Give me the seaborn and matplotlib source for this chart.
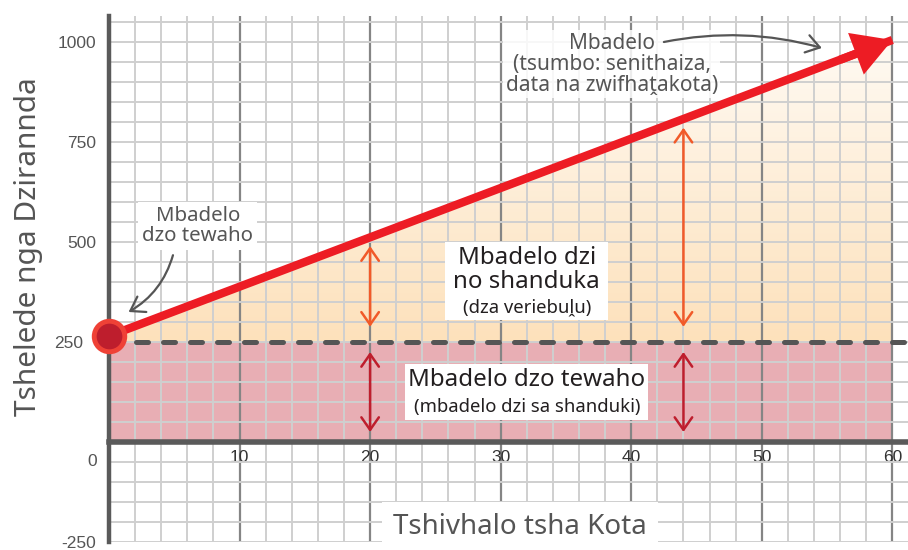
import numpy as np
import matplotlib.pyplot as plt
import matplotlib.transforms as mtransforms
from matplotlib.colors import LinearSegmentedColormap
from matplotlib.patches import Rectangle
import seaborn as sns

# data
quantity = [0, 60]
total_cost = [265, 1005]
fixed_cost = 250
arrow_x = [20, 44]
x_ticks = [10, 20, 30, 40, 50, 60]
y_ticks = [-250, 0, 250, 500, 750, 1000]
y_tick_labels = ['-250', '0', '250', '500', '750', '1000']

sns.set_theme(style="white")
plt.rcParams['font.family'] = ['Noto Sans', 'Open Sans', 'DejaVu Sans']

fig = plt.figure(figsize=(9.08, 5.5), dpi=100)
ax = fig.add_axes([109 / 908, 8 / 550, 1 - 109 / 908, 526 / 550])

# fixed cost block
ax.fill_between([quantity[0], quantity[-1]], 0, fixed_cost,
                color='#e8aeb4', lw=0, zorder=1)

# variable cost area with a vertical fade
poly = ax.fill_between(quantity, fixed_cost, total_cost, facecolor='none', lw=0)
fade = LinearSegmentedColormap.from_list('fade', ['#fde1bb', '#fffaf3'])
grad = np.linspace(0, 1, 256).reshape(-1, 1)
img = ax.imshow(grad, extent=[quantity[0], quantity[-1], fixed_cost, total_cost[-1]],
                origin='lower', aspect='auto', cmap=fade, zorder=1)
img.set_clip_path(poly.get_paths()[0], ax.transData)

ax.set_xlim(0, 61.2)
ax.set_ylim(-250, 1065)

# grid
ax.set_axisbelow('line')
ax.set_xticks(x_ticks)
ax.set_xticks([v for v in range(2, 62, 2) if v % 10], minor=True)
ax.set_yticks(y_ticks)
ax.set_yticklabels(y_tick_labels)
ax.set_yticks([v for v in range(-250, 1065, 50) if v not in y_ticks], minor=True)
ax.grid(which='minor', color='#cfcfcf', lw=1.4)
ax.grid(which='major', axis='y', color='#cfcfcf', lw=1.4)
ax.grid(which='major', axis='x', color='#858585', lw=1.6)

# spines
for s in ['top', 'right']:
    ax.spines[s].set_visible(False)
ax.spines['left'].set_color('#5a5a5a')
ax.spines['left'].set_linewidth(3.2)
ax.spines['bottom'].set_position(('data', 0))
ax.spines['bottom'].set_color('#5a5a5a')
ax.spines['bottom'].set_linewidth(4)

ax.tick_params(axis='both', which='both', length=0)
ax.tick_params(axis='y', pad=9, labelsize=12.5, labelcolor='#555555')
ax.tick_params(axis='x', pad=6, labelsize=12.5, labelcolor='#333333')
for lab in ax.get_yticklabels() + ax.get_xticklabels():
    lab.set_fontfamily(['Liberation Sans', 'DejaVu Sans'])
ylabs = ax.get_yticklabels()
ylabs[1].set_transform(ylabs[1].get_transform() +
                       mtransforms.ScaledTranslation(0, -18 / 100, fig.dpi_scale_trans))
ylabs[2].set_transform(ylabs[2].get_transform() +
                       mtransforms.ScaledTranslation(-13 / 100, 0, fig.dpi_scale_trans))

# fixed cost line
ax.axhline(fixed_cost, color='#555555', lw=3.6, dashes=(2.4, 3.0),
           dash_capstyle='round', zorder=3)

# total cost line
sns.lineplot(x=quantity, y=total_cost, ax=ax, color='#ed1c24', lw=6,
             solid_capstyle='butt', zorder=4)
ax.annotate('', xy=(quantity[-1], total_cost[-1]),
            xytext=(quantity[-1] - 4, np.interp(quantity[-1] - 4, quantity, total_cost)),
            arrowprops=dict(arrowstyle='simple, head_length=1.4, head_width=1.6, tail_width=0.3',
                            color='#ed1c24', lw=0, mutation_scale=20, shrinkA=0, shrinkB=0),
            zorder=4)
ax.plot(quantity[0], total_cost[0], 'o', ms=22, mfc='#be1e2d', mec='#ef4136',
        mew=3.5, zorder=5, clip_on=False)

# double arrows
for x in arrow_x:
    top = np.interp(x, quantity, total_cost)
    ax.annotate('', xy=(x, top - 22), xytext=(x, fixed_cost + 38),
                arrowprops=dict(arrowstyle='<->, head_length=0.5, head_width=0.35',
                                color='#f15a29', lw=1.8, mutation_scale=18,
                                shrinkA=0, shrinkB=0), zorder=4)
    ax.annotate('', xy=(x, fixed_cost - 25), xytext=(x, 25),
                arrowprops=dict(arrowstyle='<->, head_length=0.5, head_width=0.35',
                                color='#be1e2d', lw=1.8, mutation_scale=18,
                                shrinkA=0, shrinkB=0), zorder=4)

# labels in the chart
t3a = ax.text(32.0, 429, 'Mbadelo dzi\nno shanduka', ha='center', va='center',
              fontsize=17.3, color='#231f20', linespacing=1.0, zorder=7)
t3b = ax.text(32.0, 337, '(dza veriebuḽu)', ha='center', va='center',
              fontsize=13.3, color='#231f20', zorder=7)
t4a = ax.text(32.0, 155, 'Mbadelo dzo tewaho', ha='center', va='center',
              fontsize=17.3, color='#231f20', zorder=7)
t4b = ax.text(32.0, 88, '(mbadelo dzi sa shanduki)', ha='center', va='center',
              fontsize=13.3, color='#231f20', zorder=7)

ax.text(6.8, 540, 'Mbadelo\ndzo tewaho', ha='center', va='center',
        fontsize=14.7, color='#555555', linespacing=1.0, zorder=6,
        bbox=dict(boxstyle='square,pad=0.2', fc='white', ec='none'))
ax.annotate('', xy=(1.5, 325), xytext=(4.9, 467),
            arrowprops=dict(arrowstyle='->, head_length=0.6, head_width=0.4',
                            color='#555555', lw=1.6, mutation_scale=16,
                            connectionstyle='arc3,rad=-0.2', shrinkA=0, shrinkB=0),
            zorder=6)

ax.text(38.5, 945, 'Mbadelo\n(tsumbo: senithaiza,\ndata na zwifhaṱakota)', ha='center',
        va='center', fontsize=15, color='#555555', linespacing=1.0, zorder=6,
        bbox=dict(boxstyle='square,pad=0.1', fc='white', ec='none', alpha=0.85))
ax.annotate('', xy=(54.6, 985), xytext=(42.5, 1000),
            arrowprops=dict(arrowstyle='->, head_length=0.6, head_width=0.4',
                            color='#555555', lw=1.6, mutation_scale=16,
                            connectionstyle='arc3,rad=-0.12', shrinkA=0, shrinkB=0),
            zorder=6)

# axis titles
ax.text(0.514, 0.028, 'Tshivhalo tsha Kota', transform=ax.transAxes, ha='center',
        va='center', fontsize=20, color='#555555', zorder=8,
        bbox=dict(boxstyle='square,pad=0.4', fc='white', ec='none'))
fig.text(0.031, 0.551, 'Tshelede nga Dzirannda', rotation=90, ha='center', va='center',
         fontsize=21.5, color='#555555')

# one white box behind each two-size label
fig.canvas.draw()
renderer = fig.canvas.get_renderer()
for group, (px, py) in [((t3a, t3b), (8, 4)), ((t4a, t4b), (3, 4))]:
    bb = mtransforms.Bbox.union([t.get_window_extent(renderer) for t in group])
    (fx0, fy0), (fx1, fy1) = fig.transFigure.inverted().transform(
        [(bb.x0 - px, bb.y0 - py), (bb.x1 + px, bb.y1 + py)])
    rect = Rectangle((fx0, fy0), fx1 - fx0, fy1 - fy0, transform=fig.transFigure,
                     fc='white', ec='none', zorder=6, clip_on=False)
    ax.add_artist(rect)
    rect.set_transform(fig.transFigure)

fig.savefig('out.png', dpi=100)
